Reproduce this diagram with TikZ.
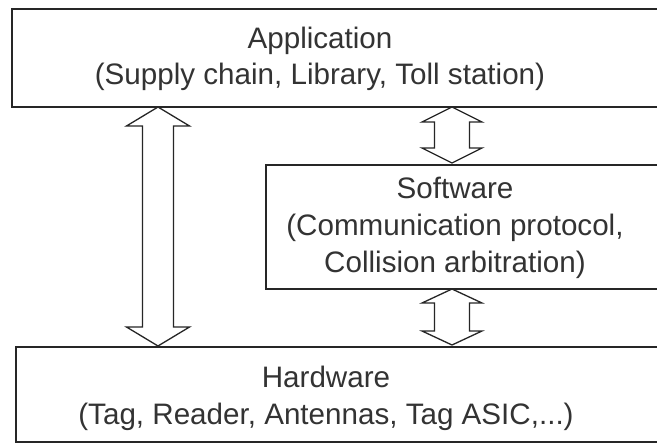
\documentclass[tikz,border=0pt]{standalone}
\usepackage{fontspec}
\setmainfont{Liberation Sans}
\usetikzlibrary{calc}
\tikzset{
  boxline/.style={draw=black!85, line width=1.6pt},
  arr/.style={draw=black!85, line width=1.3pt, fill=white, line join=miter},
  txt/.style={anchor=base, inner sep=0pt, font=\fontsize{29.6}{36}\selectfont, text=black!80},
}
\newcommand\twoway[6]{% top anchor, bottom anchor, x centre, shaft half, head half, head length
  \draw[arr] let \p1=(#1), \p2=(#2) in
    (#3pt,\y1) -- ({#3pt+#5pt},{\y1-#6pt}) -- ({#3pt+#4pt},{\y1-#6pt})
    -- ({#3pt+#4pt},{\y2+#6pt}) -- ({#3pt+#5pt},{\y2+#6pt}) -- (#3pt,\y2)
    -- ({#3pt-#5pt},{\y2+#6pt}) -- ({#3pt-#4pt},{\y2+#6pt})
    -- ({#3pt-#4pt},{\y1-#6pt}) -- ({#3pt-#5pt},{\y1-#6pt}) -- cycle;}
\begin{document}
\begin{tikzpicture}[x=1pt,y=-1pt]
\path[use as bounding box] (0,0) rectangle (657,444);
\clip (0,0) rectangle (657,444);
\fill[white] (0,0) rectangle (657,444);
% boxes
\node[boxline, anchor=north west, minimum width=670pt, minimum height=98pt, inner sep=0pt] (app) at (11,8) {};
\node[boxline, anchor=north west, minimum width=420pt, minimum height=124pt, inner sep=0pt] (sw) at (265,164) {};
\node[boxline, anchor=north west, minimum width=670pt, minimum height=95pt, inner sep=0pt] (hw) at (15,346) {};
% texts
\node[txt] (appA) at (320,49) {Application};
\node[txt] (appB) at (320,85) {(Supply chain, Library, Toll station)};
\node[txt] (swA) at (455,198) {Software};
\node[txt] (swB) at (455,235) {(Communication protocol,};
\node[txt] (swC) at (455,272) {Collision arbitration)};
\node[txt] (hwA) at (326,387) {Hardware};
\node[txt] (hwB) at (326,424) {(Tag, Reader, Antennas, Tag ASIC,...)};
% arrows
\coordinate (t1) at (158,107);
\coordinate (b1) at (158,346);
\coordinate (t2) at (452,107);
\coordinate (b2) at (452,163);
\coordinate (t3) at (452,289);
\coordinate (b3) at (452,345);
\twoway{t1}{b1}{158}{15.5}{31.5}{19}
\twoway{t2}{b2}{452}{17.5}{30}{15}
\twoway{t3}{b3}{452}{17.5}{30}{14}
\end{tikzpicture}
\end{document}
